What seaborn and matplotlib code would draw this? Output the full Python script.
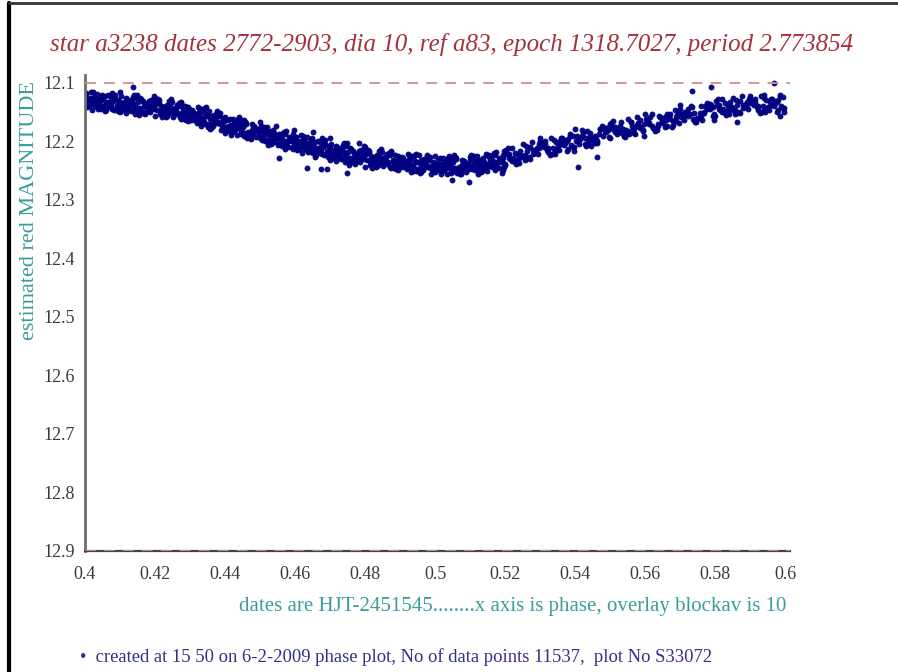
import numpy as np
import pandas as pd
import matplotlib
matplotlib.use("Agg")
import matplotlib.pyplot as plt
from matplotlib.lines import Line2D
import seaborn as sns

title = "star a3238 dates 2772-2903, dia 10, ref a83, epoch 1318.7027, period 2.773854"
ylabel = "estimated red MAGNITUDE"
xlabel = "dates are HJT-2451545........x axis is phase, overlay blockav is 10"
footer = "\u2022  created at 15 50 on 6-2-2009 phase plot, No of data points 11537,  plot No S33072"

x_ticks = [0.40, 0.42, 0.44, 0.46, 0.48, 0.50, 0.52, 0.54, 0.56, 0.58, 0.60]
x_tick_labels = ["0.4", "0.42", "0.44", "0.46", "0.48", "0.5", "0.52", "0.54", "0.56", "0.58", "0.6"]
y_ticks = [12.1, 12.2, 12.3, 12.4, 12.5, 12.6, 12.7, 12.8, 12.9]
y_tick_labels = ["12.1", "12.2", "12.3", "12.4", "12.5", "12.6", "12.7", "12.8", "12.9"]
ref_lines = [12.1, 12.9]

phase = [
    .4002,.4027,.4044,.4013,.4036,.4008,.4021,.4048,.4031,.4005,.4017,.4040,.4025,.4011,.4046,.4033,.4019,.4003,.4029,.4038,
    .4091,.4056,.4069,.4083,.4051,.4077,.4097,.4062,.4074,.4088,.4059,.4080,.4094,.4066,.4053,.4085,.4071,.4099,.4064,.4076,
    .4114,.4137,.4104,.4125,.4146,.4118,.4132,.4109,.4143,.4121,.4101,.4129,.4139,.4112,.4148,.4106,.4134,.4123,.4116,.4145,
    .4152,.4177,.4194,.4163,.4186,.4158,.4171,.4198,.4181,.4155,.4167,.4190,.4175,.4161,.4196,.4183,.4169,.4153,.4179,.4188,
    .4241,.4206,.4219,.4233,.4201,.4227,.4247,.4212,.4224,.4238,.4209,.4230,.4244,.4216,.4203,.4235,.4221,.4249,.4214,.4226,
    .4264,.4287,.4254,.4275,.4296,.4268,.4282,.4259,.4293,.4271,.4251,.4279,.4289,.4262,.4298,.4256,.4284,.4273,.4266,.4295,
    .4302,.4327,.4344,.4313,.4336,.4308,.4321,.4348,.4331,.4305,.4317,.4340,.4325,.4311,.4346,.4333,.4319,.4303,.4329,.4338,
    .4391,.4356,.4369,.4383,.4351,.4377,.4397,.4362,.4374,.4388,.4359,.4380,.4394,.4366,.4353,.4385,.4371,.4399,.4364,.4376,
    .4414,.4437,.4404,.4425,.4446,.4418,.4432,.4409,.4443,.4421,.4401,.4429,.4439,.4412,.4448,.4406,.4434,.4423,.4416,.4445,
    .4452,.4477,.4494,.4463,.4486,.4458,.4471,.4498,.4481,.4455,.4467,.4490,.4475,.4461,.4496,.4483,.4469,.4453,.4479,.4488,
    .4541,.4506,.4519,.4533,.4501,.4527,.4547,.4512,.4524,.4538,.4509,.4530,.4544,.4516,.4503,.4535,.4521,.4549,.4514,.4526,
    .4564,.4587,.4554,.4575,.4596,.4568,.4582,.4559,.4593,.4571,.4551,.4579,.4589,.4562,.4598,.4556,.4584,.4573,.4566,.4595,
    .4602,.4627,.4644,.4613,.4636,.4608,.4621,.4648,.4631,.4605,.4617,.4640,.4625,.4611,.4646,.4633,.4619,.4603,.4629,.4638,
    .4691,.4656,.4669,.4683,.4651,.4677,.4697,.4662,.4674,.4688,.4659,.4680,.4694,.4666,.4653,.4685,.4671,.4699,.4664,.4676,
    .4714,.4737,.4704,.4725,.4746,.4718,.4732,.4709,.4743,.4721,.4701,.4729,.4739,.4712,.4748,.4706,.4734,.4723,.4716,.4745,
    .4752,.4777,.4794,.4763,.4786,.4758,.4771,.4798,.4781,.4755,.4767,.4790,.4775,.4761,.4796,.4783,.4769,.4753,.4779,.4788,
    .4841,.4806,.4819,.4833,.4801,.4827,.4847,.4812,.4824,.4838,.4809,.4830,.4844,.4816,.4803,.4835,.4821,.4849,.4814,.4826,
    .4864,.4887,.4854,.4875,.4896,.4868,.4882,.4859,.4893,.4871,.4851,.4879,.4889,.4862,.4898,.4856,.4884,.4873,.4866,.4895,
    .4902,.4927,.4944,.4913,.4936,.4908,.4921,.4948,.4931,.4905,.4917,.4940,.4925,.4911,.4946,.4933,.4919,.4903,.4929,.4938,
    .4991,.4956,.4969,.4983,.4951,.4977,.4997,.4962,.4974,.4988,.4959,.4980,.4994,.4966,.4953,.4985,.4971,.4999,.4964,.4976,
    .5014,.5037,.5004,.5025,.5046,.5018,.5032,.5009,.5043,.5021,.5001,.5029,.5039,.5012,.5048,.5006,.5034,.5023,.5016,.5045,
    .5052,.5077,.5094,.5063,.5086,.5058,.5071,.5098,.5081,.5055,.5067,.5090,.5075,.5061,.5096,.5083,.5069,.5053,.5079,.5088,
    .5141,.5106,.5119,.5133,.5101,.5127,.5147,.5112,.5124,.5138,.5109,.5130,.5144,.5116,.5103,.5135,.5121,.5149,.5114,.5126,
    .5164,.5187,.5154,.5175,.5196,.5168,.5182,.5159,.5193,.5171,.5151,.5179,.5189,.5162,.5198,.5156,.5184,.5173,.5166,.5195,
    .5203,.5224,.5241,.5212,.5233,.5207,.5246,.5219,.5228,.5201,.5237,.5215,
    .5294,.5259,.5280,.5268,.5252,.5286,.5272,.5298,.5263,.5277,.5256,.5289,
    .5303,.5324,.5341,.5312,.5333,.5307,.5346,.5319,.5328,.5301,.5337,.5315,
    .5394,.5359,.5380,.5368,.5352,.5386,.5372,.5398,.5363,.5377,.5356,.5389,
    .5403,.5424,.5441,.5412,.5433,.5407,.5446,.5419,.5428,.5401,.5437,.5415,
    .5494,.5459,.5480,.5468,.5452,.5486,.5472,.5498,.5463,.5477,.5456,.5489,
    .5503,.5524,.5541,.5512,.5533,.5507,.5546,.5519,.5528,.5501,.5537,.5515,
    .5594,.5559,.5580,.5568,.5552,.5586,.5572,.5598,.5563,.5577,.5556,.5589,
    .5603,.5624,.5641,.5612,.5633,.5607,.5646,.5619,.5628,.5601,.5637,.5615,
    .5694,.5659,.5680,.5668,.5652,.5686,.5672,.5698,.5663,.5677,.5656,.5689,
    .5703,.5724,.5741,.5712,.5733,.5707,.5746,.5719,.5728,.5701,.5737,.5715,
    .5794,.5759,.5780,.5768,.5752,.5786,.5772,.5798,.5763,.5777,.5756,.5789,
    .5803,.5824,.5841,.5812,.5833,.5807,.5846,.5819,.5828,.5801,.5837,.5815,
    .5894,.5859,.5880,.5868,.5852,.5886,.5872,.5898,.5863,.5877,.5856,.5889,
    .5903,.5924,.5941,.5912,.5933,.5907,.5946,.5919,.5928,.5901,.5937,.5915,
    .5994,.5959,.5980,.5968,.5952,.5986,.5972,.5998,.5963,.5977,.5956,.5989,
    .4137,.4555,.4635,.4675,.4690,.4748,.5098,.5048,.5190,.4650,.4782,.5734,.5789,.5940,.5968,.5862,.5986,.5408,.5463,
]

mag = [
    12.118,12.133,12.138,12.125,12.144,12.129,12.136,12.121,12.130,12.141,12.115,12.134,12.127,12.139,12.123,12.132,12.146,12.119,12.135,12.128,
    12.138,12.123,12.134,12.146,12.129,12.119,12.140,12.133,12.125,12.143,12.136,12.131,12.148,12.121,12.139,12.127,12.142,12.116,12.135,12.144,
    12.133,12.145,12.123,12.138,12.142,12.129,12.148,12.135,12.153,12.127,12.140,12.131,12.136,12.144,12.121,12.146,12.134,12.141,12.125,12.150,
    12.147,12.137,12.130,12.143,12.150,12.126,12.140,12.145,12.134,12.155,12.131,12.142,12.138,12.149,12.123,12.146,12.135,12.151,12.139,12.129,
    12.131,12.146,12.151,12.138,12.157,12.142,12.149,12.134,12.143,12.154,12.128,12.147,12.140,12.152,12.136,12.145,12.159,12.132,12.148,12.141,
    12.154,12.139,12.150,12.162,12.145,12.135,12.156,12.149,12.141,12.159,12.152,12.147,12.164,12.137,12.155,12.143,12.158,12.132,12.151,12.160,
    12.153,12.165,12.143,12.158,12.162,12.149,12.168,12.155,12.173,12.147,12.160,12.151,12.156,12.164,12.141,12.166,12.154,12.161,12.145,12.170,
    12.172,12.162,12.155,12.168,12.175,12.151,12.165,12.170,12.159,12.180,12.156,12.167,12.163,12.174,12.148,12.171,12.160,12.176,12.164,12.154,
    12.161,12.176,12.181,12.168,12.187,12.172,12.179,12.164,12.173,12.184,12.158,12.177,12.170,12.182,12.166,12.175,12.189,12.162,12.178,12.171,
    12.186,12.171,12.182,12.194,12.177,12.167,12.188,12.181,12.173,12.191,12.184,12.179,12.196,12.169,12.187,12.175,12.190,12.164,12.183,12.192,
    12.186,12.198,12.176,12.191,12.195,12.182,12.201,12.188,12.206,12.180,12.193,12.184,12.189,12.197,12.174,12.199,12.187,12.194,12.178,12.203,
    12.205,12.195,12.188,12.201,12.208,12.184,12.198,12.203,12.192,12.213,12.189,12.200,12.196,12.207,12.181,12.204,12.193,12.209,12.197,12.187,
    12.192,12.207,12.212,12.199,12.218,12.203,12.210,12.195,12.204,12.215,12.189,12.208,12.201,12.213,12.197,12.206,12.220,12.193,12.209,12.202,
    12.216,12.201,12.212,12.224,12.207,12.197,12.218,12.211,12.203,12.221,12.214,12.209,12.226,12.199,12.217,12.205,12.220,12.194,12.213,12.222,
    12.215,12.227,12.205,12.220,12.224,12.211,12.230,12.217,12.235,12.209,12.222,12.213,12.218,12.226,12.203,12.228,12.216,12.223,12.207,12.232,
    12.232,12.222,12.215,12.228,12.235,12.211,12.225,12.230,12.219,12.240,12.216,12.227,12.223,12.234,12.208,12.231,12.220,12.236,12.224,12.214,
    12.217,12.232,12.237,12.224,12.243,12.228,12.235,12.220,12.229,12.240,12.214,12.233,12.226,12.238,12.222,12.231,12.245,12.218,12.234,12.227,
    12.238,12.223,12.234,12.246,12.229,12.219,12.240,12.233,12.225,12.243,12.236,12.231,12.248,12.221,12.239,12.227,12.242,12.216,12.235,12.244,
    12.233,12.245,12.223,12.238,12.242,12.229,12.248,12.235,12.253,12.227,12.240,12.231,12.236,12.244,12.221,12.246,12.234,12.241,12.225,12.250,
    12.247,12.237,12.230,12.243,12.250,12.226,12.240,12.245,12.234,12.255,12.231,12.242,12.238,12.249,12.223,12.246,12.235,12.251,12.239,12.229,
    12.228,12.243,12.248,12.235,12.254,12.239,12.246,12.231,12.240,12.251,12.225,12.244,12.237,12.249,12.233,12.242,12.256,12.229,12.245,12.238,
    12.246,12.231,12.242,12.254,12.237,12.227,12.248,12.241,12.233,12.251,12.244,12.239,12.256,12.229,12.247,12.235,12.250,12.224,12.243,12.252,
    12.235,12.247,12.225,12.240,12.244,12.231,12.250,12.237,12.255,12.229,12.242,12.233,12.238,12.246,12.223,12.248,12.236,12.243,12.227,12.252,
    12.241,12.231,12.224,12.237,12.244,12.220,12.234,12.239,12.228,12.249,12.225,12.236,12.232,12.243,12.217,12.240,12.229,12.245,12.233,12.223,
    12.215,12.229,12.237,12.222,12.232,12.211,12.226,12.234,12.219,12.240,12.224,12.230,
    12.222,12.208,12.215,12.227,12.204,12.219,12.230,12.212,12.216,12.201,12.224,12.218,
    12.203,12.218,12.197,12.210,12.221,12.206,12.201,12.214,12.224,12.195,12.212,12.199,
    12.191,12.205,12.213,12.198,12.208,12.187,12.202,12.210,12.195,12.216,12.200,12.206,
    12.200,12.186,12.193,12.205,12.182,12.197,12.208,12.190,12.194,12.179,12.202,12.196,
    12.181,12.196,12.175,12.188,12.199,12.184,12.179,12.192,12.202,12.173,12.190,12.177,
    12.169,12.183,12.191,12.176,12.186,12.165,12.180,12.188,12.173,12.194,12.178,12.184,
    12.180,12.166,12.173,12.185,12.162,12.177,12.188,12.170,12.174,12.159,12.182,12.176,
    12.162,12.177,12.156,12.169,12.180,12.165,12.160,12.173,12.183,12.154,12.171,12.158,
    12.150,12.164,12.172,12.157,12.167,12.146,12.161,12.169,12.154,12.175,12.159,12.165,
    12.159,12.145,12.152,12.164,12.141,12.156,12.167,12.149,12.153,12.138,12.161,12.155,
    12.142,12.157,12.136,12.149,12.160,12.145,12.140,12.153,12.163,12.134,12.151,12.138,
    12.131,12.145,12.153,12.138,12.148,12.127,12.142,12.150,12.135,12.156,12.140,12.146,
    12.144,12.130,12.137,12.149,12.126,12.141,12.152,12.134,12.138,12.123,12.146,12.140,
    12.131,12.146,12.125,12.138,12.149,12.134,12.129,12.142,12.152,12.123,12.140,12.127,
    12.124,12.138,12.146,12.131,12.141,12.120,12.135,12.143,12.128,12.149,12.133,12.139,
    12.107,12.228,12.245,12.247,12.247,12.254,12.269,12.266,12.254,12.184,12.203,12.114,12.107,12.121,12.101,12.167,12.156,12.244,12.226,
]

phase2 = [
    .4004,.4035,.4016,.4047,.4026,.4010,.4041,.4022,.4031,.4000,.4038,.4014,.4045,.4029,
    .4080,.4061,.4093,.4070,.4052,.4087,.4074,.4099,.4058,.4083,.4067,.4095,.4077,.4056,
    .4104,.4135,.4116,.4147,.4126,.4110,.4141,.4122,.4131,.4100,.4138,.4114,.4145,.4129,
    .4180,.4161,.4193,.4170,.4152,.4187,.4174,.4199,.4158,.4183,.4167,.4195,.4177,.4156,
    .4204,.4235,.4216,.4247,.4226,.4210,.4241,.4222,.4231,.4200,.4238,.4214,.4245,.4229,
    .4280,.4261,.4293,.4270,.4252,.4287,.4274,.4299,.4258,.4283,.4267,.4295,.4277,.4256,
    .4304,.4335,.4316,.4347,.4326,.4310,.4341,.4322,.4331,.4300,.4338,.4314,.4345,.4329,
    .4380,.4361,.4393,.4370,.4352,.4387,.4374,.4399,.4358,.4383,.4367,.4395,.4377,.4356,
    .4404,.4435,.4416,.4447,.4426,.4410,.4441,.4422,.4431,.4400,.4438,.4414,.4445,.4429,
    .4480,.4461,.4493,.4470,.4452,.4487,.4474,.4499,.4458,.4483,.4467,.4495,.4477,.4456,
    .4504,.4535,.4516,.4547,.4526,.4510,.4541,.4522,.4531,.4500,.4538,.4514,.4545,.4529,
    .4580,.4561,.4593,.4570,.4552,.4587,.4574,.4599,.4558,.4583,.4567,.4595,.4577,.4556,
    .4604,.4635,.4616,.4647,.4626,.4610,.4641,.4622,.4631,.4600,.4638,.4614,.4645,.4629,
    .4680,.4661,.4693,.4670,.4652,.4687,.4674,.4699,.4658,.4683,.4667,.4695,.4677,.4656,
    .4704,.4735,.4716,.4747,.4726,.4710,.4741,.4722,.4731,.4700,.4738,.4714,.4745,.4729,
    .4780,.4761,.4793,.4770,.4752,.4787,.4774,.4799,.4758,.4783,.4767,.4795,.4777,.4756,
    .4804,.4835,.4816,.4847,.4826,.4810,.4841,.4822,.4831,.4800,.4838,.4814,.4845,.4829,
    .4880,.4861,.4893,.4870,.4852,.4887,.4874,.4899,.4858,.4883,.4867,.4895,.4877,.4856,
    .4904,.4935,.4916,.4947,.4926,.4910,.4941,.4922,.4931,.4900,.4938,.4914,.4945,.4929,
    .4980,.4961,.4993,.4970,.4952,.4987,.4974,.4999,.4958,.4983,.4967,.4995,.4977,.4956,
    .5004,.5035,.5016,.5047,.5026,.5010,.5041,.5022,.5031,.5000,.5038,.5014,.5045,.5029,
    .5080,.5061,.5093,.5070,.5052,.5087,.5074,.5099,.5058,.5083,.5067,.5095,.5077,.5056,
    .5104,.5135,.5116,.5147,.5126,.5110,.5141,.5122,.5131,.5100,.5138,.5114,.5145,.5129,
    .5180,.5161,.5193,.5170,.5152,.5187,.5174,.5199,.5158,.5183,.5167,.5195,.5177,.5156,
    .5210,.5243,.5227,.5205,.5236,.5219,.5248,.5231,
    .5272,.5251,.5289,.5264,.5297,.5280,.5258,.5292,
    .5322,.5301,.5339,.5314,.5347,.5330,.5308,.5342,
    .5360,.5393,.5377,.5355,.5386,.5369,.5398,.5381,
    .5410,.5443,.5427,.5405,.5436,.5419,.5448,.5431,
    .5472,.5451,.5489,.5464,.5497,.5480,.5458,.5492,
    .5522,.5501,.5539,.5514,.5547,.5530,.5508,.5542,
    .5560,.5593,.5577,.5555,.5586,.5569,.5598,.5581,
    .5610,.5643,.5627,.5605,.5636,.5619,.5648,.5631,
    .5672,.5651,.5689,.5664,.5697,.5680,.5658,.5692,
    .5722,.5701,.5739,.5714,.5747,.5730,.5708,.5742,
    .5760,.5793,.5777,.5755,.5786,.5769,.5798,.5781,
    .5810,.5843,.5827,.5805,.5836,.5819,.5848,.5831,
    .5872,.5851,.5889,.5864,.5897,.5880,.5858,.5892,
    .5922,.5901,.5939,.5914,.5947,.5930,.5908,.5942,
    .5960,.5993,.5977,.5955,.5986,.5969,.5998,.5981,
]

mag2 = [
    12.137,12.119,12.132,12.144,12.124,12.129,12.140,12.116,12.134,12.122,12.142,12.127,12.130,12.139,
    12.124,12.146,12.129,12.134,12.141,12.120,12.138,12.132,12.148,12.126,12.136,12.144,12.117,12.139,
    12.138,12.130,12.152,12.126,12.145,12.136,12.121,12.142,12.134,12.149,12.124,12.140,12.146,12.131,
    12.146,12.128,12.141,12.153,12.133,12.138,12.149,12.125,12.143,12.131,12.151,12.136,12.139,12.148,
    12.134,12.156,12.139,12.144,12.151,12.130,12.148,12.142,12.158,12.136,12.146,12.154,12.127,12.149,
    12.151,12.143,12.165,12.139,12.158,12.149,12.134,12.155,12.147,12.162,12.137,12.153,12.159,12.144,
    12.163,12.145,12.158,12.170,12.150,12.155,12.166,12.142,12.160,12.148,12.168,12.153,12.156,12.165,
    12.155,12.177,12.160,12.165,12.172,12.151,12.169,12.163,12.179,12.157,12.167,12.175,12.148,12.170,
    12.175,12.167,12.189,12.163,12.182,12.173,12.158,12.179,12.171,12.186,12.161,12.177,12.183,12.168,
    12.188,12.170,12.183,12.195,12.175,12.180,12.191,12.167,12.185,12.173,12.193,12.178,12.181,12.190,
    12.180,12.202,12.185,12.190,12.197,12.176,12.194,12.188,12.204,12.182,12.192,12.200,12.173,12.195,
    12.199,12.191,12.213,12.187,12.206,12.197,12.182,12.203,12.195,12.210,12.185,12.201,12.207,12.192,
    12.211,12.193,12.206,12.218,12.198,12.203,12.214,12.190,12.208,12.196,12.216,12.201,12.204,12.213,
    12.202,12.224,12.207,12.212,12.219,12.198,12.216,12.210,12.226,12.204,12.214,12.222,12.195,12.217,
    12.220,12.212,12.234,12.208,12.227,12.218,12.203,12.224,12.216,12.231,12.206,12.222,12.228,12.213,
    12.231,12.213,12.226,12.238,12.218,12.223,12.234,12.210,12.228,12.216,12.236,12.221,12.224,12.233,
    12.220,12.242,12.225,12.230,12.237,12.216,12.234,12.228,12.244,12.222,12.232,12.240,12.213,12.235,
    12.235,12.227,12.249,12.223,12.242,12.233,12.218,12.239,12.231,12.246,12.221,12.237,12.243,12.228,
    12.243,12.225,12.238,12.250,12.230,12.235,12.246,12.222,12.240,12.228,12.248,12.233,12.236,12.245,
    12.230,12.252,12.235,12.240,12.247,12.226,12.244,12.238,12.254,12.232,12.242,12.250,12.223,12.245,
    12.242,12.234,12.256,12.230,12.249,12.240,12.225,12.246,12.238,12.253,12.228,12.244,12.250,12.235,
    12.248,12.230,12.243,12.255,12.235,12.240,12.251,12.227,12.245,12.233,12.253,12.238,12.241,12.250,
    12.229,12.251,12.234,12.239,12.246,12.225,12.243,12.237,12.253,12.231,12.241,12.249,12.222,12.244,
    12.235,12.227,12.249,12.223,12.242,12.233,12.218,12.239,12.231,12.246,12.221,12.237,12.243,12.228,
    12.228,12.216,12.236,12.221,12.232,12.212,12.225,12.239,
    12.209,12.225,12.214,12.229,12.205,12.221,12.232,12.211,
    12.211,12.199,12.219,12.204,12.215,12.195,12.208,12.222,
    12.194,12.210,12.199,12.214,12.190,12.206,12.217,12.196,
    12.197,12.185,12.205,12.190,12.201,12.181,12.194,12.208,
    12.179,12.195,12.184,12.199,12.175,12.191,12.202,12.181,
    12.182,12.170,12.190,12.175,12.186,12.166,12.179,12.193,
    12.167,12.183,12.172,12.187,12.163,12.179,12.190,12.169,
    12.170,12.158,12.178,12.163,12.174,12.154,12.167,12.181,
    12.153,12.169,12.158,12.173,12.149,12.165,12.176,12.155,
    12.156,12.144,12.164,12.149,12.160,12.140,12.153,12.167,
    12.140,12.156,12.145,12.160,12.136,12.152,12.163,12.142,
    12.144,12.132,12.152,12.137,12.148,12.128,12.141,12.155,
    12.131,12.147,12.136,12.151,12.127,12.143,12.154,12.133,
    12.139,12.127,12.147,12.132,12.143,12.123,12.136,12.150,
    12.127,12.143,12.132,12.147,12.123,12.139,12.150,12.129,
]

assert len(phase) == len(mag) and len(phase2) == len(mag2)
df = pd.DataFrame({"phase": phase + phase2, "mag": mag + mag2})

sns.set_theme(style="white")
plt.rcParams["font.family"] = ["Liberation Serif", "DejaVu Serif"]

W, H = 898, 672
fig = plt.figure(figsize=(W / 100, H / 100), dpi=100)
fig.patch.set_facecolor("white")

# axes placement in pixels: x 85..790, y 75..551
ax = fig.add_axes([85 / W, 1 - 551 / H, (790 - 85) / W, (551 - 75) / H])
ax.set_facecolor("white")

sns.scatterplot(data=df, x="phase", y="mag", ax=ax, color="#000080",
                s=18, linewidth=0, alpha=0.95, legend=False)

for yv in ref_lines:
    ax.axhline(yv, color="#d48c8c", lw=1.3, ls=(0, (6, 4.5)), zorder=3)

ax.set_xlim(0.4, 0.6014)
ax.set_ylim(12.9, 12.0865)
ax.set_xticks(x_ticks)
ax.set_xticklabels(x_tick_labels)
ax.set_yticks(y_ticks)
ax.set_yticklabels(y_tick_labels)
ax.set_xlabel("")
ax.set_ylabel("")

for side in ["top", "right"]:
    ax.spines[side].set_visible(False)
ax.spines["left"].set_color("#6e6e6e")
ax.spines["left"].set_linewidth(2.0)
ax.spines["bottom"].set_color("#444444")
ax.spines["bottom"].set_linewidth(1.6)
ax.tick_params(axis="both", direction="out", length=5, width=1.0, color="#777777",
               labelcolor="#3a3a3a", labelsize=13)
ax.tick_params(axis="y", pad=2)
ax.tick_params(axis="x", pad=6)

# figure frame (left and top borders)
fig.add_artist(Line2D([9 / W, 9 / W], [0, 1 - 3 / H], transform=fig.transFigure,
                      color="black", lw=3))
fig.add_artist(Line2D([9 / W, 1], [1 - 3 / H, 1 - 3 / H], transform=fig.transFigure,
                      color="#333333", lw=2))

fig.text(452 / W, 1 - 45 / H, title, ha="center", va="center", fontsize=18,
         style="italic", color="#a3323c")
fig.text(30 / W, 1 - 211 / H, ylabel, ha="center", va="center", rotation=90,
         fontsize=16, color="#3a9e9e")
fig.text(786 / W, 1 - 607 / H, xlabel, ha="right", va="center", fontsize=15,
         color="#3a9e9e")
fig.text(80 / W, 1 - 657 / H, footer, ha="left", va="center", fontsize=13.4,
         color="#32328c")

fig.savefig("out.png", dpi=100, facecolor="white")
